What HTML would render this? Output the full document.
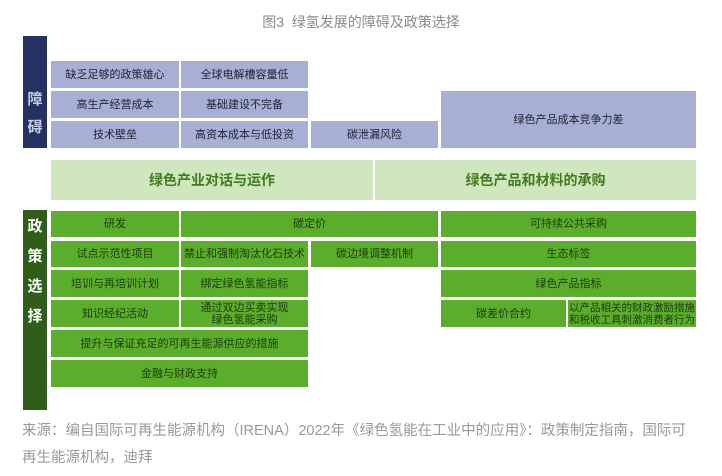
<!DOCTYPE html>
<html><head><meta charset="utf-8"><style>
body{margin:0;width:722px;height:476px;background:#fff;position:relative;overflow:hidden;font-family:"Liberation Sans","Noto Sans CJK SC",sans-serif}
.b{position:absolute;display:flex;align-items:center;justify-content:center;text-align:center;font-size:11px;line-height:12px;box-sizing:border-box}
.r{background:#a8afd4;color:#1f2233}
.g{background:#5bae2b;color:#1d3a0c}
.l{background:#cfe6bf;color:#3f7d1c;font-weight:bold;font-size:14px}
.v{flex-direction:column;color:#fff;font-weight:bold;font-size:15px;line-height:28px}
</style></head><body>
<div style="position:absolute;top:12px;left:0;width:722px;text-align:center;color:#8a8a8a;font-size:14px">图3&nbsp;&nbsp;绿氢发展的障碍及政策选择</div>
<div class="b v" style="left:23px;top:36px;width:24px;height:112px;background:#253063;padding-top:44px;color:#c8cce6">障<br>碍</div>
<div class="b r" style="left:51px;top:61px;width:128px;height:27px">缺乏足够的政策雄心</div>
<div class="b r" style="left:181px;top:61px;width:127px;height:27px">全球电解槽容量低</div>
<div class="b r" style="left:51px;top:91px;width:128px;height:27px">高生产经营成本</div>
<div class="b r" style="left:181px;top:91px;width:127px;height:27px">基础建设不完备</div>
<div class="b r" style="left:51px;top:121px;width:128px;height:27px">技术壁垒</div>
<div class="b r" style="left:181px;top:121px;width:127px;height:27px">高资本成本与低投资</div>
<div class="b r" style="left:311px;top:121px;width:127px;height:27px">碳泄漏风险</div>
<div class="b r" style="left:441px;top:91px;width:255px;height:57px">绿色产品成本竞争力差</div>
<div class="b l" style="left:51px;top:160px;width:322px;height:40px">绿色产业对话与运作</div>
<div class="b l" style="left:375px;top:160px;width:321px;height:40px">绿色产品和材料的承购</div>
<div class="b v" style="left:23px;top:210px;width:24px;height:200px;background:#2f5e1a;justify-content:flex-start;padding-top:2px;line-height:30px">政<br>策<br>选<br>择</div>
<div class="b g" style="left:51px;top:211px;width:128px;height:26px">研发</div>
<div class="b g" style="left:181px;top:211px;width:257px;height:26px">碳定价</div>
<div class="b g" style="left:441px;top:211px;width:255px;height:26px">可持续公共采购</div>
<div class="b g" style="left:51px;top:241px;width:128px;height:26px">试点示范性项目</div>
<div class="b g" style="left:181px;top:241px;width:127px;height:26px">禁止和强制淘汰化石技术</div>
<div class="b g" style="left:311px;top:241px;width:127px;height:26px">碳边境调整机制</div>
<div class="b g" style="left:441px;top:241px;width:255px;height:26px">生态标签</div>
<div class="b g" style="left:51px;top:270px;width:128px;height:27px">培训与再培训计划</div>
<div class="b g" style="left:181px;top:270px;width:127px;height:27px">绑定绿色氢能指标</div>
<div class="b g" style="left:441px;top:270px;width:255px;height:27px">绿色产品指标</div>
<div class="b g" style="left:51px;top:300px;width:128px;height:27px">知识经纪活动</div>
<div class="b g" style="left:181px;top:300px;width:127px;height:27px">通过双边买卖实现<br>绿色氢能采购</div>
<div class="b g" style="left:441px;top:300px;width:125px;height:27px">碳差价合约</div>
<div class="b g" style="left:568px;top:300px;width:128px;height:27px;font-size:10.5px">以产品相关的财政激励措施<br>和税收工具刺激消费者行为</div>
<div class="b g" style="left:51px;top:330px;width:257px;height:27px">提升与保证充足的可再生能源供应的措施</div>
<div class="b g" style="left:51px;top:360px;width:257px;height:27px">金融与财政支持</div>
<div style="position:absolute;left:22px;top:418px;width:700px;color:#999;font-size:14.5px;line-height:27px;white-space:nowrap">来源：编自国际可再生能源机构（IRENA）2022年《绿色氢能在工业中的应用》：政策制定指南，国际可<br>再生能源机构，迪拜</div>
</body></html>
